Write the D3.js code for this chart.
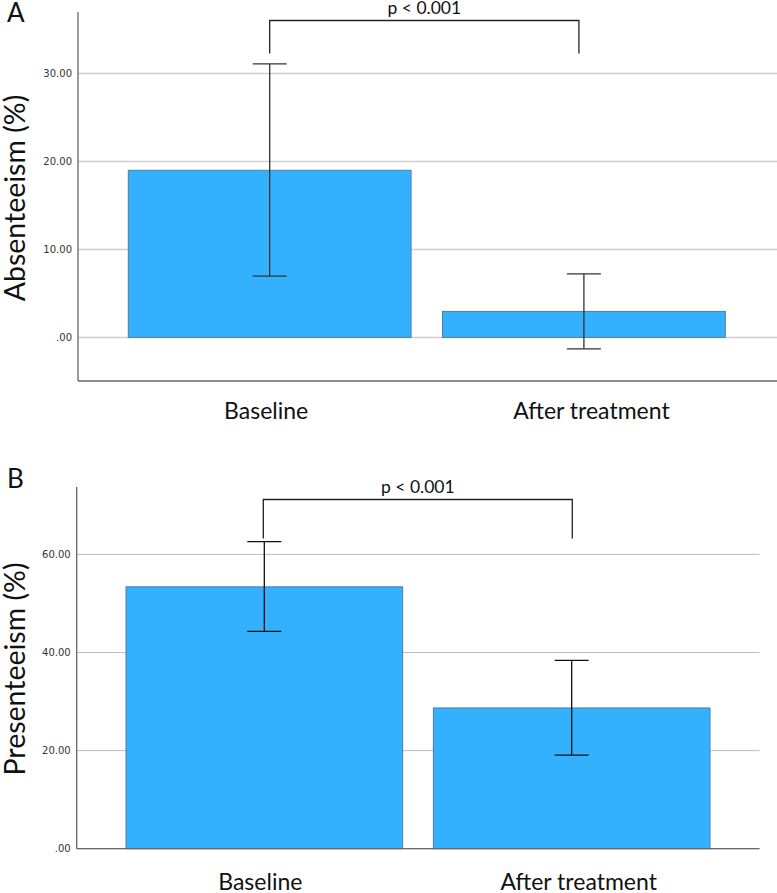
<!DOCTYPE html>
<html>
<head>
<meta charset="utf-8">
<script src="https://cdn.jsdelivr.net/npm/d3@7"></script>
<style>
  body { margin: 0; background: #fff; }
  svg { display: block; }
</style>
</head>
<body>
<script>
var categories = ['Baseline', 'After treatment'];

var absMeans = [19.0, 2.95];
var absLow = [6.97, -1.3];
var absHigh = [31.1, 7.23];
var absTicks = [0, 10, 20, 30];

var presMeans = [53.4, 28.7];
var presLow = [44.3, 19.06];
var presHigh = [62.6, 38.4];
var presTicks = [0, 20, 40, 60];

var pText = 'p < 0.001';

var w = 777;
var h = 893;
var barColor = '#33b1ff';
var labelFont = 'Lato, "Open Sans", sans-serif';

var svg = d3.select('body')
  .append('svg')
  .attr('width', w)
  .attr('height', h);

var fmt = function(d){
  return d === 0 ? '.00' : d3.format('.2f')(d);
};

function drawPanel(opt){
  var g = svg.append('g');

  var yScale = d3.scaleLinear()
    .domain(opt.domain)
    .range([opt.bottom, opt.top]);

  // bars span from first bar's left edge to last bar's right edge
  var xScale = d3.scaleBand()
    .domain(categories)
    .range([opt.barStart, opt.barEnd])
    .paddingInner(0.1)
    .paddingOuter(0);

  // grid lines
  g.selectAll('.grid')
    .data(opt.ticks)
    .enter()
    .append('line')
    .attr('x1', opt.left)
    .attr('x2', opt.gridRight)
    .attr('y1', function(d){ return yScale(d); })
    .attr('y2', function(d){ return yScale(d); })
    .attr('stroke', opt.gridColor)
    .attr('stroke-width', opt.gridWidth);

  // bars
  g.selectAll('rect')
    .data(opt.means)
    .enter()
    .append('rect')
    .attr('x', function(d, i){ return xScale(categories[i]); })
    .attr('y', function(d){ return yScale(d); })
    .attr('width', xScale.bandwidth())
    .attr('height', function(d){ return yScale(0) - yScale(d); })
    .attr('fill', barColor)
    .attr('stroke', '#4f7f9f')
    .attr('stroke-width', 1);

  // y axis
  var yAxis = d3.axisLeft(yScale)
    .tickValues(opt.ticks)
    .tickSize(0)
    .tickPadding(6)
    .tickFormat(fmt);

  var ya = g.append('g')
    .attr('transform', 'translate(' + opt.left + ',0)')
    .call(yAxis);
  ya.select('.domain').remove();
  ya.selectAll('text')
    .attr('font-family', '"DejaVu Sans", sans-serif')
    .attr('font-size', '10px')
    .attr('fill', '#333');

  g.append('line')
    .attr('x1', opt.left).attr('x2', opt.left)
    .attr('y1', opt.top).attr('y2', opt.axisBottom)
    .attr('stroke', '#666').attr('stroke-width', 1.3);

  g.append('line')
    .attr('x1', opt.left).attr('x2', opt.gridRight)
    .attr('y1', opt.axisBottom).attr('y2', opt.axisBottom)
    .attr('stroke', '#666').attr('stroke-width', 1.3);

  // error bars
  var cx = function(i){ return xScale(categories[i]) + xScale.bandwidth() / 2; };
  var eb = g.selectAll('.err')
    .data(opt.means)
    .enter()
    .append('g')
    .attr('stroke', opt.errColor)
    .attr('stroke-width', 1.3);
  eb.append('line')
    .attr('x1', function(d, i){ return cx(i); })
    .attr('x2', function(d, i){ return cx(i); })
    .attr('y1', function(d, i){ return yScale(opt.low[i]); })
    .attr('y2', function(d, i){ return yScale(opt.high[i]); });
  eb.append('line')
    .attr('x1', function(d, i){ return cx(i) - 17; })
    .attr('x2', function(d, i){ return cx(i) + 17; })
    .attr('y1', function(d, i){ return yScale(opt.high[i]); })
    .attr('y2', function(d, i){ return yScale(opt.high[i]); });
  eb.append('line')
    .attr('x1', function(d, i){ return cx(i) - 17; })
    .attr('x2', function(d, i){ return cx(i) + 17; })
    .attr('y1', function(d, i){ return yScale(opt.low[i]); })
    .attr('y2', function(d, i){ return yScale(opt.low[i]); });

  // significance bracket
  var x0 = cx(0) + opt.brL, x1 = cx(1) + opt.brR;
  g.append('path')
    .attr('d', 'M' + x0 + ',' + opt.brLow + 'V' + opt.brTop + 'H' + x1 + 'V' + opt.brLow)
    .attr('fill', 'none')
    .attr('stroke', '#222')
    .attr('stroke-width', 1.3);
  g.append('text')
    .attr('x', (x0 + x1) / 2)
    .attr('y', opt.brTop - 6.5)
    .attr('text-anchor', 'middle')
    .attr('font-family', labelFont)
    .attr('font-size', '17.5px')
    .attr('fill', '#111')
    .text(pText);

  // category labels
  g.selectAll('.cat')
    .data(categories)
    .enter()
    .append('text')
    .attr('x', function(d, i){ return cx(i) + opt.catShift[i]; })
    .attr('y', opt.catY)
    .attr('text-anchor', 'middle')
    .attr('font-family', labelFont)
    .attr('font-size', '23px')
    .attr('fill', '#111')
    .text(function(d){ return d; });

  // y label
  g.append('text')
    .attr('transform', 'translate(' + opt.yLabX + ',' + opt.yLabY + ') rotate(-90)')
    .attr('text-anchor', 'middle')
    .attr('font-family', labelFont)
    .attr('font-size', '28.5px')
    .attr('fill', '#111')
    .text(opt.yLabel);

  // panel letter
  g.append('text')
    .attr('x', 7)
    .attr('y', opt.letterY)
    .attr('font-family', labelFont)
    .attr('font-size', '26px')
    .attr('fill', '#111')
    .text(opt.letter);
}

drawPanel({
  letter: 'A', letterY: 22,
  yLabel: 'Absenteeism (%)', yLabX: 25, yLabY: 198,
  means: absMeans, low: absLow, high: absHigh, ticks: absTicks,
  domain: [-4.96, 37], top: 12, bottom: 381, axisBottom: 381,
  left: 78, barStart: 128.3, barEnd: 725.3, gridRight: 777,
  gridColor: '#cfcfcf', gridWidth: 1.5, errColor: '#333',
  brTop: 20.5, brLow: 53.5, brL: 0, brR: -5,
  catY: 419, catShift: [-3.5, 7.5]
});

drawPanel({
  letter: 'B', letterY: 488,
  yLabel: 'Presenteeism (%)', yLabX: 25, yLabY: 669,
  means: presMeans, low: presLow, high: presHigh, ticks: presTicks,
  domain: [0, 73.75], top: 487, bottom: 848.7, axisBottom: 848.7,
  left: 76.7, barStart: 126, barEnd: 710, gridRight: 759.5,
  gridColor: '#bdbdbd', gridWidth: 1, errColor: '#111',
  brTop: 499.5, brLow: 538.5, brL: -1, brR: 0.6,
  catY: 890, catShift: [-4, 7]
});
</script>
</body>
</html>
